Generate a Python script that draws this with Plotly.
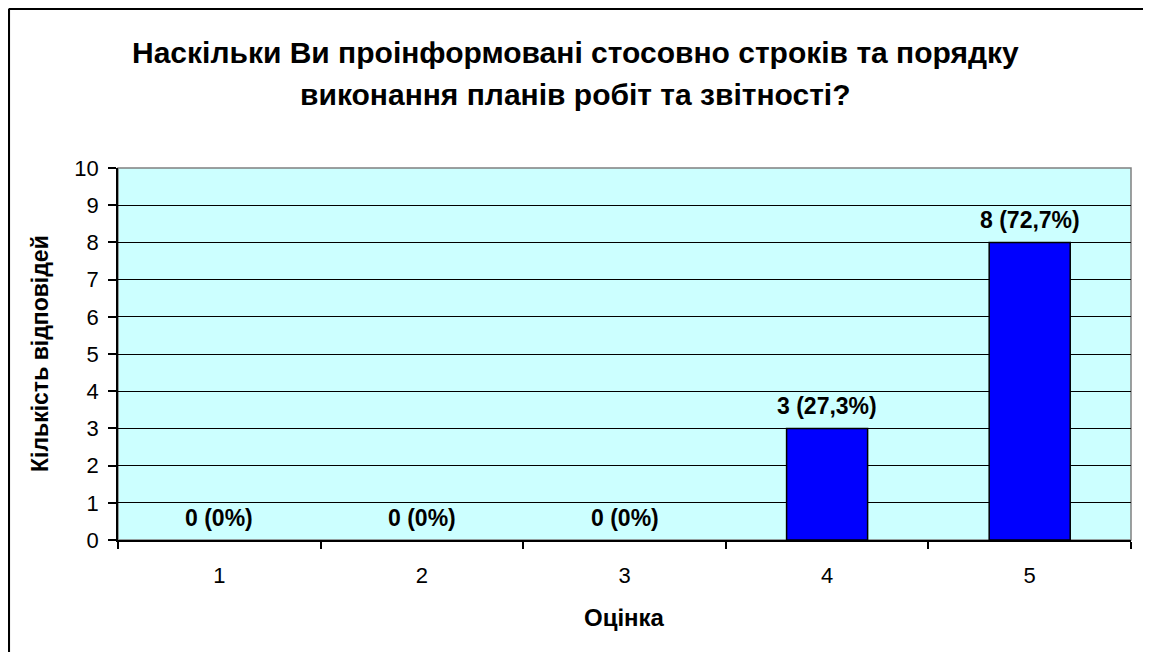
import plotly.graph_objects as go

categories = ["1", "2", "3", "4", "5"]
counts = [0, 0, 0, 3, 8]
labels = ["0 (0%)", "0 (0%)", "0 (0%)", "3 (27,3%)", "8 (72,7%)"]
title_lines = ["Наскільки Ви проінформовані стосовно строків та порядку",
               "виконання планів робіт та звітності?"]
x_title = "Оцінка"
y_title = "Кількість відповідей"

# page has an 8px body margin; work in figure pixels = page pixels - 8
OFF = 8
W, H = 1151 - 2 * OFF, 660 - 2 * OFF
L, R, T, B = 118 - OFF, W - (1131 - OFF), 168 - OFF, H - (540 - OFF)
pw, ph = W - L - R, H - T - B

def px_x(page_px):
    return (page_px - OFF - L) / pw

def px_y(page_py):
    return (H - B - (page_py - OFF)) / ph

FONT = "Liberation Sans, Arial, sans-serif"

fig = go.Figure()
fig.add_trace(go.Bar(
    x=categories, y=counts, width=0.4,
    marker=dict(color="#0000FF",
                line=dict(color="black", width=[1.5 if v > 0 else 0 for v in counts])),
    hoverinfo="skip",
))

annotations = []
for i, (v, t) in enumerate(zip(counts, labels)):
    annotations.append(dict(
        x=i, y=v, xref="x", yref="y", text="<b>" + t + "</b>", showarrow=False,
        yshift=22, yanchor="middle", xanchor="center",
        font=dict(family=FONT, size=23, color="black"),
    ))

for line, py in zip(title_lines, [52, 95]):
    annotations.append(dict(
        x=px_x(575.5), y=px_y(py), xref="paper", yref="paper", text="<b>" + line + "</b>",
        showarrow=False, xanchor="center", yanchor="middle",
        font=dict(family=FONT, size=30, color="black"),
    ))

annotations.append(dict(
    x=px_x(40), y=0.5, xref="paper", yref="paper", text="<b>" + y_title + "</b>",
    showarrow=False, textangle=-90, xanchor="center", yanchor="middle",
    font=dict(family=FONT, size=23, color="black"),
))
annotations.append(dict(
    x=0.5, y=px_y(617), xref="paper", yref="paper", text="<b>" + x_title + "</b>",
    showarrow=False, xanchor="center", yanchor="middle",
    font=dict(family=FONT, size=24, color="black"),
))

bx, by = px_x(OFF + 0.8), px_y(OFF + 0.8)
shapes = [
    dict(type="rect", xref="paper", yref="paper", x0=0, x1=1, y0=0, y1=1,
         line=dict(color="#808080", width=1.5), layer="below"),
    # chart outer border (top and left edges visible in the frame)
    dict(type="line", xref="paper", yref="paper", x0=bx, x1=px_x(1180), y0=by, y1=by,
         line=dict(color="black", width=2.5)),
    dict(type="line", xref="paper", yref="paper", x0=bx, x1=bx, y0=by, y1=px_y(700),
         line=dict(color="black", width=2.5)),
]

fig.update_layout(
    width=W, height=H,
    margin=dict(l=L, r=R, t=T, b=B, autoexpand=False),
    paper_bgcolor="white", plot_bgcolor="#CCFFFF",
    showlegend=False,
    annotations=annotations,
    shapes=shapes,
    font=dict(family=FONT, color="black"),
)

fig.update_xaxes(
    type="category", tickson="boundaries", ticks="outside", ticklen=7,
    tickcolor="black", tickwidth=1.5, showline=True, linecolor="black", linewidth=1.5,
    showgrid=False, tickfont=dict(family=FONT, size=22, color="black"),
    range=[-0.5, 4.5], fixedrange=True, ticklabelstandoff=15,
)
fig.update_yaxes(
    range=[0, 10], dtick=1, tick0=0, ticks="outside", ticklen=8, tickcolor="black",
    tickwidth=1.5, showline=True, linecolor="black", linewidth=1.5,
    showgrid=True, gridcolor="black", gridwidth=1.2, zeroline=False,
    tickfont=dict(family=FONT, size=22, color="black"), ticklabelstandoff=5,
    fixedrange=True,
)

fig.write_html("out.html")
